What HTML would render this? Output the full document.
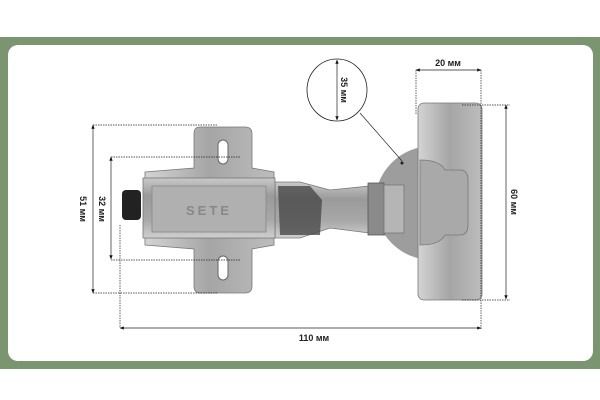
<!DOCTYPE html>
<html><head><meta charset="utf-8"><style>
html,body{margin:0;padding:0;background:#fff;}
svg{display:block;}
text{font-family:"Liberation Sans",sans-serif;font-weight:bold;font-size:9px;fill:#222;}
</style></head><body>
<svg width="600" height="400" viewBox="0 0 600 400" xmlns="http://www.w3.org/2000/svg">
<defs>
<linearGradient id="met" x1="0" y1="0" x2="0" y2="1">
<stop offset="0" stop-color="#c9c9c9"/><stop offset="0.3" stop-color="#9a9a9a"/><stop offset="0.7" stop-color="#a8a8a8"/><stop offset="1" stop-color="#d0d0d0"/></linearGradient>
<linearGradient id="metx" x1="0" y1="0" x2="1" y2="0">
<stop offset="0" stop-color="#d4d4d4"/><stop offset="0.5" stop-color="#a5a5a5"/><stop offset="1" stop-color="#bdbdbd"/></linearGradient>
<marker id="ar" viewBox="0 0 10 10" refX="9" refY="5" markerWidth="6" markerHeight="6" orient="auto-start-reverse"><path d="M0,1 L10,5 L0,9 z" fill="#111"/></marker>
<clipPath id="cl"><rect x="300" y="100" width="122" height="200"/></clipPath>
</defs>
<rect x="0" y="37" width="600" height="332" fill="#7b9571"/>
<rect x="8" y="45" width="585" height="316" rx="10" fill="#fff"/>

<circle cx="432" cy="203" r="57" fill="#9d9d9d" clip-path="url(#cl)"/>
<rect x="418" y="103" width="64" height="197" rx="6" fill="url(#metx)" stroke="#777" stroke-width="0.8"/>
<path d="M420,160 Q440,160 445,170 L460,170 Q468,170 468,180 L468,225 Q468,235 460,235 L445,235 Q440,245 420,245 Z" fill="#a9a9a9" stroke="#777" stroke-width="0.8"/>
<path d="M275,182 L300,182 L330,190 L380,185 L385,235 L330,228 L300,238 L275,238 Z" fill="url(#met)" stroke="#777" stroke-width="0.8"/>
<path d="M278,186 L310,186 L322,200 L320,235 L280,235 Z" fill="#4a4a4a" opacity="0.8"/>
<rect x="368" y="183" width="16" height="52" fill="#8a8a8a" stroke="#555" stroke-width="0.8"/>
<rect x="384" y="185" width="20" height="48" fill="#b5b5b5" stroke="#777" stroke-width="0.8"/>
<path d="M200,127 L245,127 Q252,127 252,134 L252,168 L274,172 L274,245 L252,249 L252,286 Q252,293 245,293 L200,293 Q194,293 194,286 L194,249 L145,245 L145,172 L194,168 L194,134 Q194,127 200,127 Z" fill="url(#metx)" stroke="#777" stroke-width="0.8"/>
<rect x="218" y="140" width="10" height="24" rx="5" fill="#fff" stroke="#666"/>
<rect x="218" y="256" width="10" height="24" rx="5" fill="#fff" stroke="#666"/>
<rect x="143" y="178" width="132" height="60" fill="url(#met)" stroke="#777" stroke-width="0.8"/>
<rect x="152" y="186" width="114" height="46" fill="#b0b0b0" stroke="#888" stroke-width="0.8"/>
<text x="209" y="215" text-anchor="middle" style="font-size:13px;fill:#888;letter-spacing:3px">SETE</text>
<rect x="122" y="190" width="19" height="30" rx="4" fill="#222"/>

<g stroke="#222" stroke-width="0.7" fill="none">
<path d="M416,70 V115 M481,70 V330" stroke-dasharray="1.5,1"/>
<line x1="416" y1="70" x2="481" y2="70" marker-start="url(#ar)" marker-end="url(#ar)"/>
<path d="M462,105 H510 M462,300 H510" stroke-dasharray="1.5,1"/>
<line x1="506" y1="105" x2="506" y2="299" marker-start="url(#ar)" marker-end="url(#ar)"/>
<ellipse cx="337" cy="90" rx="30" ry="31" stroke="#222" stroke-width="0.8"/>
<line x1="337" y1="60" x2="337" y2="120" marker-start="url(#ar)" marker-end="url(#ar)"/>
<line x1="360" y1="113" x2="402" y2="161"/>
<path d="M93,125 H218 M93,293 H218" stroke-dasharray="1.5,1"/>
<line x1="93" y1="125" x2="93" y2="293" marker-start="url(#ar)" marker-end="url(#ar)"/>
<path d="M111,157 H240 M111,260 H240" stroke-dasharray="1.5,1"/>
<line x1="111" y1="157" x2="111" y2="259" marker-start="url(#ar)" marker-end="url(#ar)"/>
<path d="M120,225 V328" stroke-dasharray="1.5,1"/>
<line x1="120" y1="328" x2="481" y2="328" marker-start="url(#ar)" marker-end="url(#ar)"/>
</g>
<circle cx="402" cy="163" r="1.5" fill="#222"/>
<text x="448" y="66" text-anchor="middle">20 мм</text>
<text x="314" y="341" text-anchor="middle">110 мм</text>
<text transform="translate(511,202) rotate(90)" text-anchor="middle">60 мм</text>
<text transform="translate(341,90) rotate(90)" text-anchor="middle">35 мм</text>
<text transform="translate(80,209) rotate(90)" text-anchor="middle">51 мм</text>
<text transform="translate(99,209) rotate(90)" text-anchor="middle">32 мм</text>
</svg>
</body></html>
